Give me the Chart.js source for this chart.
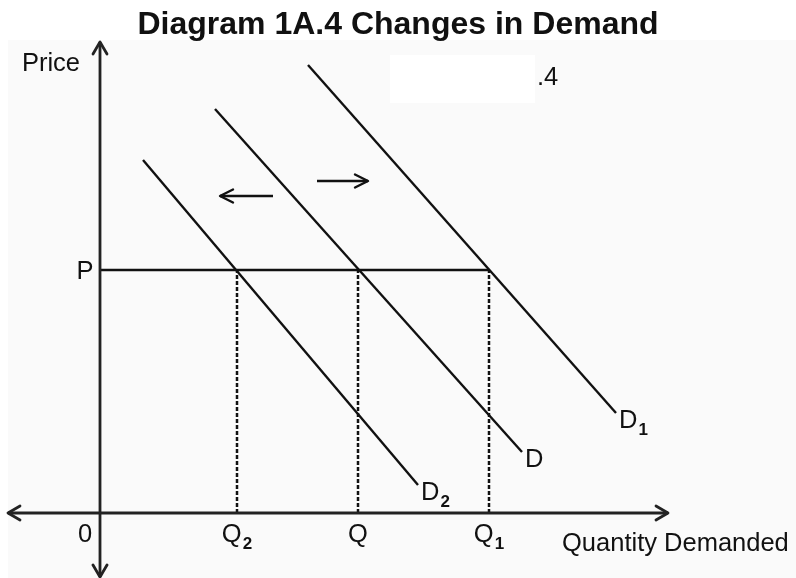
<!DOCTYPE html>
<html>
<head>
<meta charset="utf-8">
<script src="https://cdn.jsdelivr.net/npm/chart.js@4.4.1/dist/chart.umd.min.js"></script>
<style>
  html, body { margin: 0; padding: 0; background: #ffffff; }
  #wrap { width: 796px; height: 578px; position: relative; }
</style>
</head>
<body>
<div id="wrap"><canvas id="c" width="796" height="578"></canvas></div>
<script>
// ---- Data (arbitrary units) ----
const titleText = 'Diagram 1A.4 Changes in Demand';
const xAxisRange = [-9.2, 56.8];      // quantity axis extent (both ends arrowed)
const yAxisRange = [-6.4, 47.1];      // price axis extent (both ends arrowed)
const priceLevel = 24.3;              // P
const quantityMarks = [13.7, 25.8, 38.9];   // Q2, Q, Q1
const quantityNames = ['Q', 'Q', 'Q'];
const quantitySubs = ['2', '', '1'];
const demandD2 = [{x: 4.3, y: 35.3}, {x: 31.8, y: 2.8}];
const demandD  = [{x: 11.5, y: 40.4}, {x: 42.2, y: 6.1}];
const demandD1 = [{x: 20.8, y: 44.8}, {x: 51.6, y: 10.0}];
const curveNames = ['D', 'D', 'D'];
const curveSubs = ['2', '', '1'];
const shiftLeft  = [{x: 17.3, y: 31.7}, {x: 12.0, y: 31.7}];
const shiftRight = [{x: 21.7, y: 33.2}, {x: 26.8, y: 33.2}];

const FONT = '"Liberation Sans", Arial, Helvetica, sans-serif';
const INK = '#111111';
const LABEL_SIZE = 25.5;

function seg(points, extra) {
  return Object.assign({
    type: 'line', data: points, showLine: true, pointRadius: 0,
    borderColor: INK, borderWidth: 2.4, clip: false, tension: 0, fill: false
  }, extra || {});
}

const datasets = [
  seg([{x: xAxisRange[0], y: 0}, {x: xAxisRange[1], y: 0}], {borderWidth: 2.8, borderColor: '#222', arrowStart: true, arrowEnd: true, isAxis: true}),
  seg([{x: 0, y: yAxisRange[0]}, {x: 0, y: yAxisRange[1]}], {borderWidth: 2.8, borderColor: '#222', arrowStart: true, arrowEnd: true, isAxis: true}),
  seg([{x: 0, y: priceLevel}, {x: quantityMarks[2], y: priceLevel}], {borderWidth: 2.6}),
];
quantityMarks.forEach(q => {
  datasets.push(seg([{x: q, y: 0}, {x: q, y: priceLevel}], {borderDash: [4, 2], borderWidth: 2.5}));
});
[demandD2, demandD, demandD1].forEach((d, i) => {
  datasets.push(seg(d, {curveIndex: i}));
});
datasets.push(seg(shiftLeft, {arrowEnd: true}));
datasets.push(seg(shiftRight, {arrowEnd: true}));

function drawArrowHead(ctx, tip, from, len, half, color, width) {
  const ang = Math.atan2(tip.y - from.y, tip.x - from.x);
  ctx.save();
  ctx.strokeStyle = color; ctx.lineWidth = width; ctx.lineCap = 'round'; ctx.lineJoin = 'round';
  ctx.beginPath();
  const bx = tip.x - len * Math.cos(ang), by = tip.y - len * Math.sin(ang);
  const px = -Math.sin(ang) * half, py = Math.cos(ang) * half;
  ctx.moveTo(bx + px, by + py);
  ctx.lineTo(tip.x, tip.y);
  ctx.lineTo(bx - px, by - py);
  ctx.stroke();
  ctx.restore();
}

function drawSubLabel(ctx, main, sub, cx, cy, size, align, weight) {
  ctx.save();
  ctx.fillStyle = INK;
  ctx.textBaseline = 'alphabetic';
  const w = weight ? weight + ' ' : '';
  ctx.font = w + size + 'px ' + FONT;
  const mw = ctx.measureText(main).width;
  const subSize = Math.round(size * 0.66);
  ctx.font = 'bold ' + subSize + 'px ' + FONT;
  const sw = sub ? ctx.measureText(sub).width + 1 : 0;
  const total = mw + sw;
  let left = cx;
  if (align === 'center') left = cx - total / 2;
  else if (align === 'right') left = cx - total;
  const base = cy + size * 0.358;
  ctx.textAlign = 'left';
  ctx.font = w + size + 'px ' + FONT;
  ctx.fillText(main, left, base);
  if (sub) {
    ctx.font = 'bold ' + subSize + 'px ' + FONT;
    ctx.fillText(sub, left + mw + 1, base + size * 0.26);
  }
  ctx.restore();
}

const diagramPlugin = {
  id: 'diagram',
  beforeDraw(chart) {
    const ctx = chart.ctx;
    ctx.save();
    ctx.fillStyle = '#ffffff';
    ctx.fillRect(0, 0, chart.width, chart.height);
    ctx.fillStyle = '#fafafa';
    ctx.fillRect(8, 40, chart.width - 8, chart.height - 40);
    ctx.fillStyle = '#ffffff';
    ctx.fillRect(390, 55, 145, 48);
    ctx.restore();
    drawSubLabel(ctx, titleText, '', chart.width / 2, 22.5, 32, 'center', 'bold');
  },
  afterDatasetsDraw(chart) {
    const ctx = chart.ctx;
    const xs = chart.scales.x, ys = chart.scales.y;
    const px = p => ({x: xs.getPixelForValue(p.x), y: ys.getPixelForValue(p.y)});
    chart.data.datasets.forEach(ds => {
      const pts = ds.data.map(px);
      const len = ds.isAxis ? 12 : 13, half = ds.isAxis ? 7 : 6.5;
      if (ds.arrowEnd) drawArrowHead(ctx, pts[pts.length - 1], pts[pts.length - 2], len, half, ds.borderColor, ds.borderWidth);
      if (ds.arrowStart) drawArrowHead(ctx, pts[0], pts[1], len, half, ds.borderColor, ds.borderWidth);
      if (ds.curveIndex !== undefined) {
        const e = pts[pts.length - 1];
        drawSubLabel(ctx, curveNames[ds.curveIndex], curveSubs[ds.curveIndex], e.x + 3, e.y + 6, LABEL_SIZE, 'left');
      }
    });
    const x0 = xs.getPixelForValue(0), y0 = ys.getPixelForValue(0);
    drawSubLabel(ctx, '0', '', x0 - 15, y0 + 20, LABEL_SIZE, 'center');
    quantityMarks.forEach((q, i) => {
      drawSubLabel(ctx, quantityNames[i], quantitySubs[i], xs.getPixelForValue(q), y0 + 20, LABEL_SIZE, 'center');
    });
    drawSubLabel(ctx, 'P', '', x0 - 15, ys.getPixelForValue(priceLevel), LABEL_SIZE, 'center');
    drawSubLabel(ctx, 'Price', '', x0 - 20, ys.getPixelForValue(yAxisRange[1]) + 20, LABEL_SIZE, 'right');
    drawSubLabel(ctx, 'Quantity Demanded', '', xs.getPixelForValue(xAxisRange[1]) - 106, y0 + 29, LABEL_SIZE, 'left');
    drawSubLabel(ctx, '.4', '', 537, 76, LABEL_SIZE, 'left');
  }
};

new Chart(document.getElementById('c'), {
  type: 'scatter',
  data: { datasets },
  options: {
    responsive: false,
    animation: false,
    events: [],
    layout: { padding: { top: 42, left: 8, right: 128, bottom: 1 } },
    plugins: {
      legend: { display: false },
      tooltip: { enabled: false },
      title: { display: false }
    },
    scales: {
      x: { type: 'linear', display: false, min: xAxisRange[0], max: xAxisRange[1] },
      y: { type: 'linear', display: false, min: yAxisRange[0], max: yAxisRange[1] }
    }
  },
  plugins: [diagramPlugin]
});
</script>
</body>
</html>
